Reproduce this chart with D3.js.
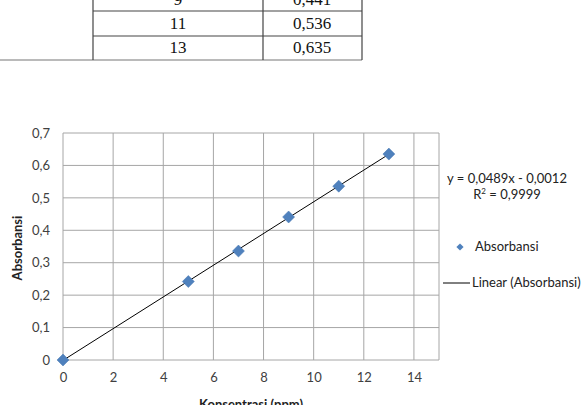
<!DOCTYPE html>
<html>
<head>
<meta charset="utf-8">
<script src="https://cdn.jsdelivr.net/npm/d3@7"></script>
<style>
  body { margin: 0; background: #fff; }
  svg { display: block; }
  .tick text { font-family: Lato, "Open Sans", sans-serif; font-size: 13px; fill: #404040; }
</style>
</head>
<body>
<div class="chart"></div>
<script>
// table rows visible above the chart
var tableConc = ["9", "11", "13"];
var tableAbs = ["0,441", "0,536", "0,635"];

// chart data
var konsentrasi = [0, 5, 7, 9, 11, 13];
var absorbansi = [0, 0.242, 0.336, 0.441, 0.536, 0.635];
var slope = 0.0489, intercept = -0.0012;
var xTicks = [0, 2, 4, 6, 8, 10, 12, 14];
var yTicks = [0, 0.1, 0.2, 0.3, 0.4, 0.5, 0.6, 0.7];

var svgWidth = 587, svgHeight = 405;
var svg = d3.select(".chart").append("svg")
  .attr("width", svgWidth)
  .attr("height", svgHeight);

// --- table fragment ---
var tbl = svg.append("g");
var rowY = [-13, 11, 36, 60];
var colX = [93, 263, 362];
rowY.slice(1).forEach(function(y, i) {
  tbl.append("line")
    .attr("x1", i == 2 ? 0 : colX[0]).attr("x2", colX[2])
    .attr("y1", y).attr("y2", y)
    .attr("stroke", i == 2 ? "#777" : "#444").attr("stroke-width", 1.2);
});
colX.forEach(function(x) {
  tbl.append("line").attr("x1", x).attr("x2", x).attr("y1", 0).attr("y2", 60)
    .attr("stroke", "#444").attr("stroke-width", 1.2);
});
tableConc.forEach(function(t, i) {
  var base = [5, 29, 53][i];
  tbl.append("text").attr("x", 178).attr("y", base).attr("text-anchor", "middle")
    .attr("font-family", "Liberation Serif, serif").attr("font-size", 17).attr("fill", "#111").text(t);
  tbl.append("text").attr("x", 312).attr("y", base).attr("text-anchor", "middle")
    .attr("font-family", "Liberation Serif, serif").attr("font-size", 17).attr("fill", "#111").text(tableAbs[i]);
});

// --- chart ---
var margin = { left: 63, top: 133 };

var chartGroup = svg.append("g")
  .attr("transform", `translate(${margin.left}, ${margin.top})`);

var xLinearScale = d3.scaleLinear().domain([0, 15]).range([0, 376]);
var yLinearScale = d3.scaleLinear().domain([0, 0.7]).range([227, 0]);

// gridlines
chartGroup.append("g").selectAll("line")
  .data(yTicks).enter().append("line")
  .attr("x1", 0).attr("x2", xLinearScale(15))
  .attr("y1", d => yLinearScale(d)).attr("y2", d => yLinearScale(d))
  .attr("stroke", "#a6a6a6");
chartGroup.append("g").selectAll("line")
  .data(xTicks.concat([15])).enter().append("line")
  .attr("x1", d => xLinearScale(d)).attr("x2", d => xLinearScale(d))
  .attr("y1", 0).attr("y2", yLinearScale(0))
  .attr("stroke", "#a6a6a6");

var xAxis = d3.axisBottom(xLinearScale).tickValues(xTicks).tickSize(0).tickPadding(13)
  .tickFormat(d3.format("d"));
var yAxis = d3.axisLeft(yLinearScale).tickValues(yTicks).tickSize(0).tickPadding(13)
  .tickFormat(d => d == 0 ? "0" : d3.format(".1f")(d).replace(".", ","));

chartGroup.append("g").attr("transform", `translate(0, ${yLinearScale(0)})`).call(xAxis)
  .call(g => g.select(".domain").remove());
chartGroup.append("g").call(yAxis)
  .call(g => g.select(".domain").remove());

// trendline
chartGroup.append("line")
  .attr("x1", xLinearScale(0)).attr("y1", yLinearScale(intercept))
  .attr("x2", xLinearScale(13)).attr("y2", yLinearScale(slope * 13 + intercept))
  .attr("stroke", "#000").attr("stroke-width", 1);

// points (square rotated 45deg)
var diamond = d3.symbol().type(d3.symbolSquare).size(72);
chartGroup.selectAll(".pt").data(konsentrasi).enter().append("path")
  .attr("class", "pt")
  .attr("d", diamond)
  .attr("transform", (d, i) => `translate(${xLinearScale(d)}, ${yLinearScale(absorbansi[i])}) rotate(45)`)
  .attr("fill", "#4f81bd")
  .attr("stroke", "#4a7ab3").attr("stroke-width", 0.5);

// axis titles
svg.append("text")
  .attr("transform", "rotate(-90)")
  .attr("x", -248).attr("y", 22)
  .attr("text-anchor", "middle")
  .attr("font-family", "Lato, sans-serif").attr("font-weight", "bold").attr("font-size", 13)
  .attr("fill", "#222").text("Absorbansi");
svg.append("text")
  .attr("x", 251).attr("y", 409)
  .attr("text-anchor", "middle")
  .attr("font-family", "Lato, sans-serif").attr("font-weight", "bold").attr("font-size", 13)
  .attr("fill", "#222").text("Konsentrasi (ppm)");

// equation
var eq = svg.append("text").attr("text-anchor", "middle")
  .attr("font-family", "Lato, sans-serif").attr("font-size", 13).attr("fill", "#222");
eq.append("tspan").attr("x", 507).attr("y", 183).text("y = 0,0489x - 0,0012");
var r2 = eq.append("tspan").attr("x", 507).attr("y", 199).text("R");
r2.append("tspan").attr("font-size", 8).attr("dy", -5).text("2");
eq.append("tspan").attr("dy", 5).text(" = 0,9999");

// legend
svg.append("path").attr("d", d3.symbol().type(d3.symbolSquare).size(26))
  .attr("transform", "translate(460, 247) rotate(45)").attr("fill", "#4f81bd");
svg.append("text").attr("x", 475).attr("y", 251)
  .attr("font-family", "Lato, sans-serif").attr("font-size", 13).attr("fill", "#222").text("Absorbansi");
svg.append("line").attr("x1", 443).attr("x2", 470).attr("y1", 283).attr("y2", 283)
  .attr("stroke", "#000");
svg.append("text").attr("x", 472).attr("y", 287)
  .attr("font-family", "Lato, sans-serif").attr("font-size", 13).attr("fill", "#222").text("Linear (Absorbansi)");
</script>
</body>
</html>
